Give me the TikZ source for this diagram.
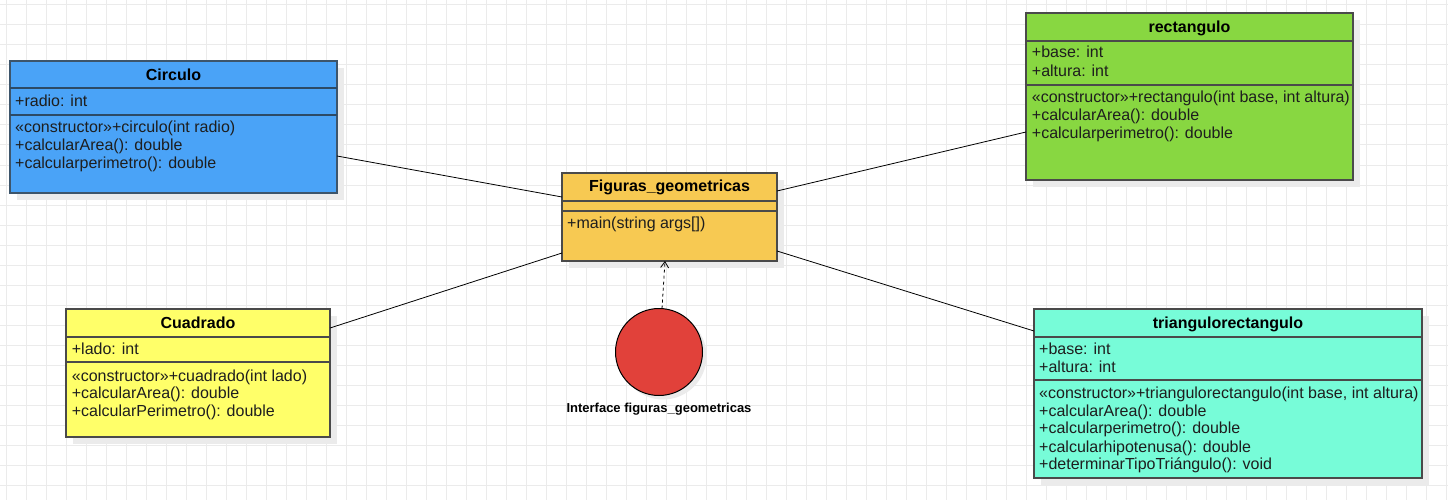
\documentclass[tikz,border=0pt]{standalone}
\usepackage{fontspec}
\setmainfont{Liberation Sans}
\usetikzlibrary{arrows.meta}
\definecolor{cblue}{HTML}{4AA3F7}
\definecolor{corange}{HTML}{F7C952}
\definecolor{cgreen}{HTML}{88D741}
\definecolor{cyellow}{HTML}{FFFF69}
\definecolor{caqua}{HTML}{77FCD8}
\definecolor{cred}{HTML}{E1413A}
\definecolor{gridc}{HTML}{EBEBEB}
\definecolor{shadowc}{HTML}{EBEBEB}
\definecolor{strokec}{HTML}{4A4A4A}
\definecolor{bluestroke}{HTML}{2C4A66}
\definecolor{textc}{HTML}{1E1E1E}
\tikzset{
  cls/.style={rectangle, draw=strokec, line width=1.5pt, inner sep=0pt, outer sep=0pt, anchor=north west},
  sepline/.style={draw=strokec, line width=1.5pt},
  hdr/.style={inner sep=0pt, text=black, font=\fontsize{16}{18}\bfseries\selectfont, text height=14pt, text depth=3pt},
  member/.style={anchor=west, inner sep=0pt, text=textc, font=\fontsize{16}{18}\selectfont, text height=14pt, text depth=3pt},
  conn/.style={draw=black, line width=0.8pt},
  shadowbox/.style={fill=shadowc}
}
\begin{document}
\begin{tikzpicture}[x=1pt,y=-1pt]
\useasboundingbox (0,0) rectangle (1448,500);
\fill[white] (0,0) rectangle (1448,500);
\foreach \gx in {6,26,...,1446} \draw[gridc, line width=1pt] (\gx,0) -- (\gx,500);
\foreach \gy in {5,25,...,485} \draw[gridc, line width=1pt] (0,\gy) -- (1448,\gy);

% shadows
\fill[shadowbox] (17,68) rectangle (344,200);
\fill[shadowbox] (569,180) rectangle (784,268);
\fill[shadowbox] (1033,20) rectangle (1360,187);
\fill[shadowbox] (73,316) rectangle (337,444);
\fill[shadowbox] (1041,316) rectangle (1429,485);
\fill[shadowbox] (663,356) circle (43.5);

% Circulo
\node[cls, draw=bluestroke!80!gray, fill=cblue, minimum width=327, minimum height=132] (circ) at (10,61) {};
\draw[sepline, draw=bluestroke] (10,88) -- (337,88);
\draw[sepline, draw=bluestroke] (10,115) -- (337,115);
\node[hdr] (circT) at (173.5,75) {Circulo};
\node[member] (circA) at (15,100.7) {+radio: int};
\node[member] (circM1) at (15,127.3) {«constructor»+circulo(int radio)};
\node[member] (circM2) at (15,145) {+calcularArea(): double};
\node[member] (circM3) at (15,162.7) {+calcularperimetro(): double};

% Figuras_geometricas
\node[cls, fill=corange, minimum width=215, minimum height=88] (fig) at (562,173) {};
\draw[sepline] (562,201) -- (777,201);
\draw[sepline] (562,211) -- (777,211);
\node[hdr] (figT) at (669.5,186) {Figuras\_geometricas};
\node[member] (figM1) at (567,223.3) {+main(string args[])};

% rectangulo
\node[cls, fill=cgreen, minimum width=327, minimum height=167] (rect) at (1026,13) {};
\draw[sepline] (1026,41) -- (1353,41);
\draw[sepline] (1026,85) -- (1353,85);
\node[hdr] (rectT) at (1189.5,26.7) {rectangulo};
\node[member] (rectA1) at (1031.7,52.3) {+base: int};
\node[member] (rectA2) at (1031.7,70.7) {+altura: int};
\node[member] (rectM1) at (1031.7,96.7) {«constructor»+rectangulo(int base, int altura)};
\node[member] (rectM2) at (1031.7,114.7) {+calcularArea(): double};
\node[member] (rectM3) at (1031.7,132.7) {+calcularperimetro(): double};

% Cuadrado
\node[cls, fill=cyellow, minimum width=264, minimum height=128] (cuad) at (66,309) {};
\draw[sepline] (66,337) -- (330,337);
\draw[sepline] (66,362) -- (330,362);
\node[hdr] (cuadT) at (198,322.7) {Cuadrado};
\node[member] (cuadA) at (71.7,349) {+lado: int};
\node[member] (cuadM1) at (71.7,375.7) {«constructor»+cuadrado(int lado)};
\node[member] (cuadM2) at (71.7,393) {+calcularArea(): double};
\node[member] (cuadM3) at (71.7,410.5) {+calcularPerimetro(): double};

% triangulorectangulo
\node[cls, fill=caqua, minimum width=388, minimum height=169] (tri) at (1034,309) {};
\draw[sepline] (1034,337) -- (1422,337);
\draw[sepline] (1034,380) -- (1422,380);
\node[hdr] (triT) at (1228,322.7) {triangulorectangulo};
\node[member] (triA1) at (1039,349) {+base: int};
\node[member] (triA2) at (1039,366.7) {+altura: int};
\node[member] (triM1) at (1039,392.7) {«constructor»+triangulorectangulo(int base, int altura)};
\node[member] (triM2) at (1039,410.7) {+calcularArea(): double};
\node[member] (triM3) at (1039,428.3) {+calcularperimetro(): double};
\node[member] (triM4) at (1039,446.7) {+calcularhipotenusa(): double};
\node[member] (triM5) at (1039,464.3) {+determinarTipoTriángulo(): void};

% interface
\node[circle, draw=black, line width=1pt, fill=cred, minimum size=87, inner sep=0pt, outer sep=0pt] (iface) at (659,352) {};
\node[inner sep=0pt, font=\fontsize{13}{15}\bfseries\selectfont, text height=11pt, text depth=3pt] (ifaceL) at (659,408.3) {Interface figuras\_geometricas};

% connectors
\draw[conn] ([yshift=-29pt]circ.east) -- ([yshift=20pt]fig.west);
\draw[conn] ([yshift=45pt]cuad.east) -- ([yshift=-36pt]fig.west);
\draw[conn] ([yshift=26pt]fig.east) -- ([yshift=-35.5pt]rect.west);
\draw[conn] ([yshift=-34pt]fig.east) -- ([yshift=62.5pt]tri.west);
\draw[conn, dashed, dash pattern=on 3pt off 3pt, -{Straight Barb[length=6pt,width=8pt,line width=0.8pt]}] ([xshift=3pt]iface.north) -- ([xshift=-4.5pt]fig.south);
\end{tikzpicture}
\end{document}
